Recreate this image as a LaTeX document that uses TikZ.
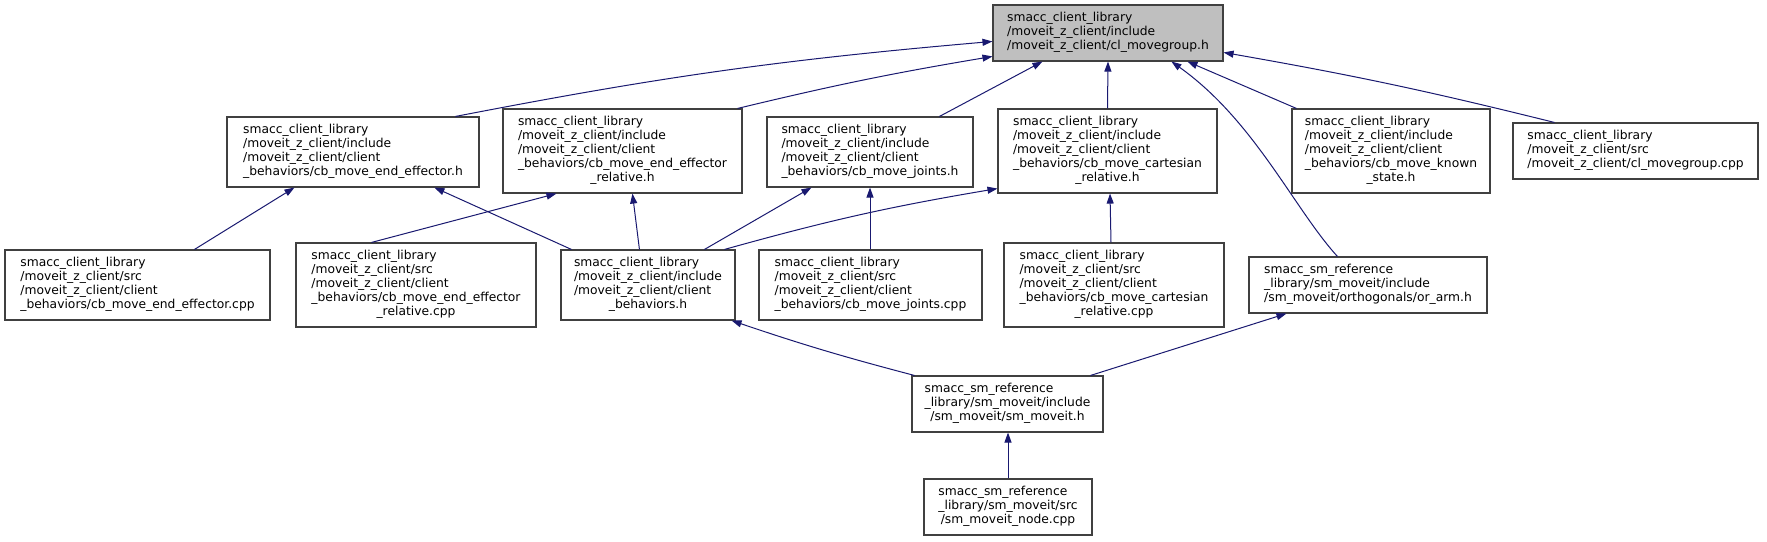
\documentclass[tikz,border=0pt]{standalone}
\usepackage{fontspec}
\setmainfont{DejaVu Sans}
\usetikzlibrary{arrows.meta}
\definecolor{edgeblue}{HTML}{191970}
\definecolor{topgray}{HTML}{BFBFBF}
\definecolor{boxline}{HTML}{404040}
\newcommand{\boxtext}[1]{\begin{tabular}{@{}l@{}}#1\end{tabular}}
\newcommand{\lastline}[1]{\multicolumn{1}{@{}c@{}}{#1}}
\begin{document}
\begin{tikzpicture}[x=1pt,y=-1pt,
  box/.style={draw=boxline, line width=1.1pt, fill=white, inner sep=0pt, align=left,
    font=\fontsize{12.3}{14}\selectfont},
  edge/.style={draw=edgeblue, line width=1pt, -{Triangle[length=10pt,width=7pt]}, color=edgeblue}]
\useasboundingbox (0,0) rectangle (1767,541);
\fill[white] (0,0) rectangle (1767,541);
% top
\node[box, fill=topgray, minimum width=230pt, minimum height=56pt] (A) at (1108,33)
  {\boxtext{smacc\_client\_library\\/moveit\_z\_client/include\\/moveit\_z\_client/cl\_movegroup.h}};
% second row
\node[box, minimum width=252pt, minimum height=70pt] (B) at (353,152)
  {\boxtext{smacc\_client\_library\\/moveit\_z\_client/include\\/moveit\_z\_client/client\\\_behaviors/cb\_move\_end\_effector.h}};
\node[box, minimum width=239pt, minimum height=84pt] (C) at (622.5,151)
  {\boxtext{smacc\_client\_library\\/moveit\_z\_client/include\\/moveit\_z\_client/client\\\_behaviors/cb\_move\_end\_effector\\\lastline{\_relative.h}}};
\node[box, minimum width=206pt, minimum height=70pt] (D) at (870,152)
  {\boxtext{smacc\_client\_library\\/moveit\_z\_client/include\\/moveit\_z\_client/client\\\_behaviors/cb\_move\_joints.h}};
\node[box, minimum width=219pt, minimum height=84pt] (E) at (1107.5,151)
  {\boxtext{smacc\_client\_library\\/moveit\_z\_client/include\\/moveit\_z\_client/client\\\_behaviors/cb\_move\_cartesian\\\lastline{\_relative.h}}};
\node[box, minimum width=198pt, minimum height=84pt] (F) at (1391,151)
  {\boxtext{smacc\_client\_library\\/moveit\_z\_client/include\\/moveit\_z\_client/client\\\_behaviors/cb\_move\_known\\\lastline{\_state.h}}};
\node[box, minimum width=245pt, minimum height=56pt] (G) at (1635.5,151)
  {\boxtext{smacc\_client\_library\\/moveit\_z\_client/src\\/moveit\_z\_client/cl\_movegroup.cpp}};
% third row
\node[box, minimum width=265pt, minimum height=70pt] (H) at (137.5,285)
  {\boxtext{smacc\_client\_library\\/moveit\_z\_client/src\\/moveit\_z\_client/client\\\_behaviors/cb\_move\_end\_effector.cpp}};
\node[box, minimum width=240pt, minimum height=84pt] (I) at (416,285)
  {\boxtext{smacc\_client\_library\\/moveit\_z\_client/src\\/moveit\_z\_client/client\\\_behaviors/cb\_move\_end\_effector\\\lastline{\_relative.cpp}}};
\node[box, minimum width=174pt, minimum height=70pt] (J) at (648,285)
  {\boxtext{smacc\_client\_library\\/moveit\_z\_client/include\\/moveit\_z\_client/client\\\lastline{\_behaviors.h}}};
\node[box, minimum width=223pt, minimum height=70pt] (K) at (870.5,285)
  {\boxtext{smacc\_client\_library\\/moveit\_z\_client/src\\/moveit\_z\_client/client\\\_behaviors/cb\_move\_joints.cpp}};
\node[box, minimum width=220pt, minimum height=84pt] (L) at (1114,285)
  {\boxtext{smacc\_client\_library\\/moveit\_z\_client/src\\/moveit\_z\_client/client\\\_behaviors/cb\_move\_cartesian\\\lastline{\_relative.cpp}}};
\node[box, minimum width=238pt, minimum height=56pt] (M) at (1368,285)
  {\boxtext{smacc\_sm\_reference\\\_library/sm\_moveit/include\\/sm\_moveit/orthogonals/or\_arm.h}};
% bottom
\node[box, minimum width=191pt, minimum height=56pt] (N) at (1007.5,404)
  {\boxtext{smacc\_sm\_reference\\\_library/sm\_moveit/include\\\lastline{/sm\_moveit/sm\_moveit.h}}};
\node[box, minimum width=168pt, minimum height=56pt] (O) at (1008,507)
  {\boxtext{smacc\_sm\_reference\\\_library/sm\_moveit/src\\\lastline{/sm\_moveit\_node.cpp}}};
% edges (arrow at the included file)
\draw[edge] ([xshift=229pt]B.north west) to[bend left=3] ([yshift=-37pt]A.north west);
\draw[edge] ([xshift=-5pt]C.north east) to[bend left=2] ([yshift=-52pt]A.north west);
\draw[edge] ([xshift=173pt]D.north west) -- ([xshift=50pt]A.south west);
\draw[edge] (E.north) -- (A.south);
\draw[edge] ([xshift=89pt]M.north west) .. controls +(-43,-47) and +(83,59) .. ([xshift=179pt]A.south west);
\draw[edge] ([xshift=5pt]F.north west) -- ([xshift=195pt]A.south west);
\draw[edge] ([xshift=42pt]G.north west) to[bend right=2] ([yshift=-48pt]A.north east);
\draw[edge] ([xshift=190pt]H.north west) -- ([xshift=68pt]B.south west);
\draw[edge] ([xshift=11pt]J.north west) -- ([xshift=208pt]B.south west);
\draw[edge] ([xshift=76pt]I.north west) -- ([xshift=54pt]C.south west);
\draw[edge] ([xshift=79pt]J.north west) -- ([xshift=130pt]C.south west);
\draw[edge] ([xshift=144pt]J.north west) -- ([xshift=45pt]D.south west);
\draw[edge] (K.north -| D.south) -- (D.south);
\draw[edge] ([xshift=164pt]J.north west) to[bend left=3] ([yshift=5pt]E.south west);
\draw[edge] ([xshift=-3pt]L.north) -- ([xshift=2.5pt]E.south);
\draw[edge] ([xshift=3pt]N.north west) to[bend left=2] ([xshift=-4pt]J.south east);
\draw[edge] ([xshift=-13pt]N.north east) -- ([xshift=38pt]M.south west);
\draw[edge] (O.north) -- (O.north |- N.south);
\end{tikzpicture}
\end{document}
